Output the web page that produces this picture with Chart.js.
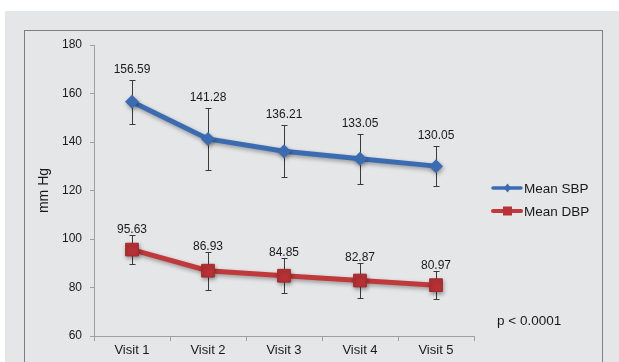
<!DOCTYPE html>
<html lang="en">
<head>
<meta charset="UTF-8">
<title>Mean SBP / DBP by visit</title>
<style>
  html, body { margin: 0; padding: 0; background: #fff; }
  body { width: 619px; height: 362px; position: relative; overflow: hidden; font-family: "Liberation Sans", Arial, sans-serif; }
  #panel { position: absolute; left: 5px; top: 11px; right: 0; bottom: 0; background: #e5e6e8; }
  #frame { position: absolute; left: 24px; top: 30px; width: 577px; height: 400px; border: 1px solid #7f7f7f; }
  #chart { position: absolute; left: 0; top: 0; }
  .leg { position: absolute; left: 491px; height: 16px; font-size: 13.5px; color: #1a1a1a; display: flex; align-items: center; }
  .leg svg { margin-right: 1px; }
  #pval { position: absolute; left: 497px; top: 313px; font-size: 13.5px; color: #1a1a1a; }
</style>
</head>
<body>
  <div id="panel"></div>
  <div id="frame"></div>
  <canvas id="chart" width="619" height="362"></canvas>

  <div class="leg" style="top:180px">
    <svg width="32" height="16"><line x1="2" y1="8" x2="30" y2="8" stroke="#3b6cb1" stroke-width="3.5" stroke-linecap="round"/><path d="M16.5 3.5 L20 8 L16.5 12.5 L13 8 Z" fill="#3b6cb1"/></svg>
    <span>Mean SBP</span>
  </div>
  <div class="leg" style="top:203px">
    <svg width="32" height="16"><line x1="2" y1="8" x2="30" y2="8" stroke="#c0393b" stroke-width="4" stroke-linecap="round"/><rect x="12" y="3.5" width="9" height="9" fill="#b83235"/></svg>
    <span>Mean DBP</span>
  </div>
  <div id="pval">p &lt; 0.0001</div>

  <script src="https://cdn.jsdelivr.net/npm/chart.js"></script>
  <script>
    // values
    const visits = ["Visit 1", "Visit 2", "Visit 3", "Visit 4", "Visit 5"];
    const sbpMean = [156.59, 141.28, 136.21, 133.05, 130.05];
    const sbpSD = [9.0, 12.8, 10.7, 10.2, 8.2];
    const dbpMean = [95.63, 86.93, 84.85, 82.87, 80.97];
    const dbpSD = [6.0, 7.9, 7.3, 7.4, 5.9];
    const yTicks = [60, 80, 100, 120, 140, 160, 180];

    const sbpColor = "#3b6cb1";
    const dbpColor = "#c0393b";

    // error bars, drawn under the lines
    const errBars = {
      id: "errBars",
      beforeDatasetsDraw(chart) {
        const { ctx, scales: { x, y } } = chart;
        ctx.save();
        ctx.strokeStyle = "#3a3a3a";
        ctx.lineWidth = 1;
        chart.data.datasets.forEach(ds => {
          ds.data.forEach((v, j) => {
            const px = Math.round(x.getPixelForValue(j)) + 0.5;
            const top = Math.round(y.getPixelForValue(v + ds.sd[j])) + 0.5;
            const bot = Math.round(y.getPixelForValue(v - ds.sd[j])) + 0.5;
            ctx.beginPath();
            ctx.moveTo(px, top); ctx.lineTo(px, bot);
            ctx.moveTo(px - 3, top); ctx.lineTo(px + 3, top);
            ctx.moveTo(px - 3, bot); ctx.lineTo(px + 3, bot);
            ctx.stroke();
          });
        });
        ctx.restore();
      }
    };

    // soft shadow under lines and markers
    const shadow = {
      id: "shadow",
      beforeDatasetDraw(chart) {
        const ctx = chart.ctx;
        ctx.save();
        ctx.shadowColor = "rgba(0,0,0,0.35)";
        ctx.shadowBlur = 4;
        ctx.shadowOffsetX = 1;
        ctx.shadowOffsetY = 2;
      },
      afterDatasetDraw(chart) {
        chart.ctx.restore();
      }
    };

    // mean value above each error bar
    const valueLabels = {
      id: "valueLabels",
      afterDatasetsDraw(chart) {
        const { ctx, scales: { x, y } } = chart;
        ctx.save();
        ctx.font = "12px 'Liberation Sans', Arial, sans-serif";
        ctx.fillStyle = "#1a1a1a";
        ctx.textAlign = "center";
        ctx.textBaseline = "middle";
        chart.data.datasets.forEach(ds => {
          ds.data.forEach((v, j) => {
            const px = x.getPixelForValue(j);
            const top = y.getPixelForValue(v + ds.sd[j]);
            ctx.fillText(v.toFixed(2), px, top - ds.labelGap);
          });
        });
        ctx.restore();
      }
    };

    new Chart(document.getElementById("chart"), {
      type: "line",
      data: {
        labels: visits,
        datasets: [
          {
            label: "Mean SBP",
            data: sbpMean,
            sd: sbpSD,
            labelGap: 10.5,
            borderColor: sbpColor,
            backgroundColor: sbpColor,
            borderWidth: 5,
            pointStyle: "rectRot",
            pointRadius: 7,
            pointBorderWidth: 0,
            tension: 0
          },
          {
            label: "Mean DBP",
            data: dbpMean,
            sd: dbpSD,
            labelGap: 5,
            borderColor: dbpColor,
            backgroundColor: "#b83235",
            borderWidth: 5,
            pointStyle: "rect",
            pointRadius: 9,
            pointBorderWidth: 1,
            pointBorderColor: "#a22a2d",
            tension: 0
          }
        ]
      },
      options: {
        responsive: false,
        devicePixelRatio: 1,
        animation: false,
        layout: { padding: { left: 0, right: 145, top: 45, bottom: 0 } },
        plugins: {
          legend: { display: false },
          tooltip: { enabled: false }
        },
        scales: {
          x: {
            offset: true,
            afterFit: s => { s.height = 26; },
            grid: { display: true, drawOnChartArea: false, drawTicks: true, tickLength: 5, color: "#a0a0a0", offset: true },
            border: { color: "#a0a0a0" },
            ticks: {
              color: "#1a1a1a",
              padding: 2,
              font: { family: "'Liberation Sans', Arial, sans-serif", size: 13 }
            }
          },
          y: {
            min: 60,
            max: 180,
            afterFit: s => { s.width = 94; },
            afterBuildTicks: s => { s.ticks = yTicks.map(v => ({ value: v })); },
            grid: { display: true, drawOnChartArea: false, drawTicks: true, tickLength: 4, color: "#a0a0a0" },
            border: { color: "#a0a0a0" },
            ticks: {
              color: "#1a1a1a",
              padding: 8,
              font: { family: "'Liberation Sans', Arial, sans-serif", size: 12 }
            },
            title: {
              display: true,
              text: "mm Hg",
              color: "#1a1a1a",
              padding: { top: 36, bottom: 0 },
              font: { family: "'Liberation Sans', Arial, sans-serif", size: 14 }
            }
          }
        }
      },
      plugins: [errBars, shadow, valueLabels]
    });
  </script>
</body>
</html>
